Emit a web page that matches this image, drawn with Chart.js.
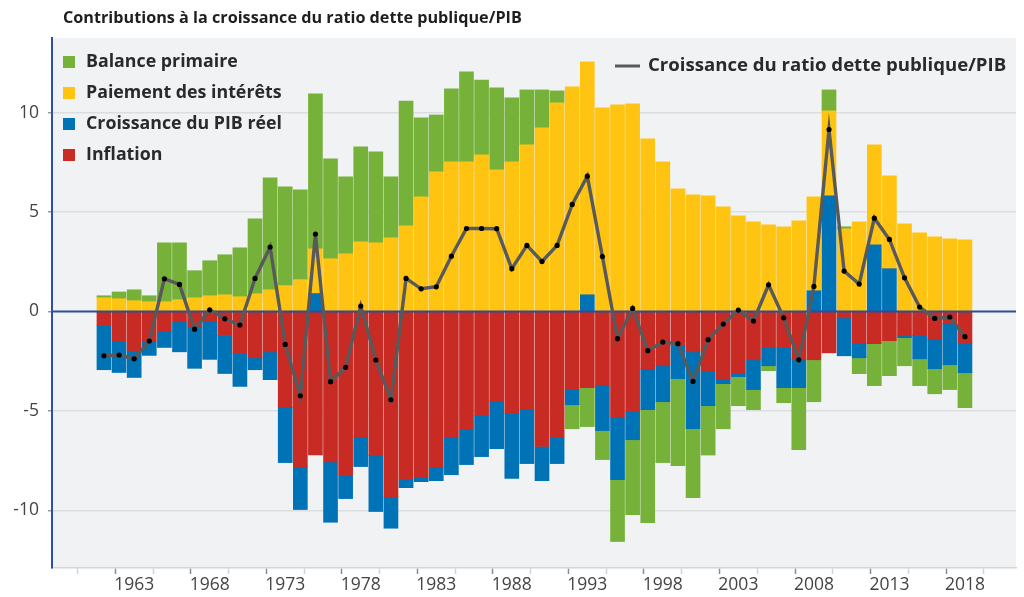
<!DOCTYPE html>
<html><head><meta charset="utf-8">
<script src="https://cdn.jsdelivr.net/npm/chart.js@4.4.1/dist/chart.umd.min.js"></script>
<style>html,body{margin:0;padding:0;background:#fff;}canvas{display:block;}</style>
</head><body>
<canvas id="c" width="1024" height="597"></canvas>
<script>
const TITLE = "Contributions à la croissance du ratio dette publique/PIB";
const LABEL_PRIMARY = "Balance primaire";
const LABEL_INTEREST = "Paiement des intérêts";
const LABEL_GROWTH = "Croissance du PIB réel";
const LABEL_INFLATION = "Inflation";
const LABEL_LINE = "Croissance du ratio dette publique/PIB";

const years = [1961,1962,1963,1964,1965,1966,1967,1968,1969,1970,
  1971,1972,1973,1974,1975,1976,1977,1978,1979,1980,
  1981,1982,1983,1984,1985,1986,1987,1988,1989,1990,
  1991,1992,1993,1994,1995,1996,1997,1998,1999,2000,
  2001,2002,2003,2004,2005,2006,2007,2008,2009,2010,
  2011,2012,2013,2014,2015,2016,2017,2018];

const tickYears = [1963,1968,1973,1978,1983,1988,1993,1998,2003,2008,2013,2018];
const minorTickYears = [1960.5,1965.5,1970.5,1975.5,1980.5,1985.5,1990.5,1995.5,2000.5,2005.5,2010.5,2015.5];
const yTicks = [-10,-5,0,5,10];

const inflation = [-0.70,-1.47,-1.97,-1.52,-1.00,-0.52,-0.77,-0.47,-1.21,-2.11,
  -2.33,-2.03,-4.82,-7.80,-7.22,-7.57,-8.26,-6.30,-7.25,-9.36,
  -8.46,-8.36,-7.86,-6.30,-5.90,-5.24,-4.49,-5.14,-4.94,-6.79,
  -6.35,-3.93,-3.83,-3.73,-5.34,-5.04,-2.88,-2.73,-1.72,-2.03,
  -2.98,-3.38,-3.13,-2.43,-1.82,-1.81,-2.43,-2.43,-2.08,-0.32,
  -1.62,-1.62,-1.47,-1.22,-1.22,-1.42,-0.62,-1.62];

const realGrowth = [-2.23,-1.60,-1.35,-0.69,-0.81,-1.51,-2.09,-1.94,-1.91,-1.66,
  -0.60,-1.40,-2.78,-2.16,0.90,-3.03,-1.15,-1.50,-2.81,-1.54,
  -0.40,-0.20,-0.65,-1.91,-1.80,-2.06,-2.41,-3.26,-2.71,-1.72,
  -1.30,-0.76,0.84,-2.26,-3.12,-1.41,-2.06,-1.81,-1.66,-3.87,
  -1.76,-0.25,-0.15,-1.50,-0.91,-2.02,-1.40,1.04,5.81,-1.91,
  -0.71,3.35,2.15,-0.10,-1.16,-1.46,-2.06,-1.46];

const interest = [0.69,0.64,0.54,0.49,0.49,0.59,0.69,0.79,0.84,0.74,
  0.89,1.09,1.30,1.60,2.25,2.65,2.90,3.50,3.45,3.70,
  4.31,5.76,7.02,7.52,7.52,7.87,7.12,7.52,8.38,9.23,
  10.49,11.29,11.71,10.24,10.39,10.44,8.68,7.52,6.17,5.86,
  5.81,5.26,4.81,4.51,4.36,4.26,4.56,4.72,4.28,4.16,
  4.51,5.03,4.67,4.41,3.95,3.75,3.65,3.60];

const primaryBalance = [0.10,0.34,0.55,0.30,2.96,2.86,1.36,1.76,2.01,2.46,
  3.77,5.63,4.97,4.52,7.79,5.02,3.87,4.78,4.58,3.07,
  6.27,3.97,2.86,3.67,4.53,3.77,4.12,3.22,2.76,1.91,
  0.60,-1.21,-1.96,-1.46,-3.11,-3.77,-5.68,-3.06,-4.37,-3.46,
  -2.48,-2.27,-1.46,-1.01,-0.25,-0.76,-3.12,-2.11,1.05,0.10,
  -0.80,-2.11,-1.76,-1.41,-1.35,-1.26,-1.25,-1.76];

const debtRatioGrowth = [-2.23,-2.19,-2.38,-1.49,1.64,1.36,-0.89,0.08,-0.37,-0.68,
  1.66,3.24,-1.66,-4.24,3.89,-3.53,-2.81,0.27,-2.44,-4.44,
  1.66,1.14,1.24,2.78,4.17,4.17,4.16,2.15,3.32,2.51,
  3.32,5.38,6.80,2.76,-1.37,0.15,-1.97,-1.54,-1.62,-3.52,
  -1.42,-0.63,0.07,-0.48,1.34,-0.32,-2.43,1.26,9.15,2.03,
  1.38,4.69,3.62,1.69,0.22,-0.35,-0.28,-1.27];

const COLORS = {green:'#76b23a', yellow:'#ffc412', blue:'#0072b6', red:'#c82a24', line:'#58595b', dot:'#000000'};
const FONT = '"Open Sans", "Noto Sans", sans-serif';

const pts = arr => arr.map((v,i)=>({x:years[i], y:v}));

const barCommon = {type:'bar', barThickness:14, borderWidth:0, stack:'contrib', order:1};

const datasets = [
  Object.assign({label:LABEL_INFLATION, data:pts(inflation), backgroundColor:COLORS.red}, barCommon),
  Object.assign({label:LABEL_GROWTH, data:pts(realGrowth), backgroundColor:COLORS.blue}, barCommon),
  Object.assign({label:LABEL_INTEREST, data:pts(interest), backgroundColor:COLORS.yellow}, barCommon),
  Object.assign({label:LABEL_PRIMARY, data:pts(primaryBalance), backgroundColor:COLORS.green}, barCommon),
  {type:'line', label:LABEL_LINE, data:pts(debtRatioGrowth), stack:'line', order:0,
   borderColor:COLORS.line, borderWidth:3.4, tension:0,
   pointRadius:2.6, pointBackgroundColor:COLORS.dot, pointBorderWidth:0, pointHoverRadius:2.6}
];

const leftLegend = [
  {label:LABEL_PRIMARY, color:COLORS.green},
  {label:LABEL_INTEREST, color:COLORS.yellow},
  {label:LABEL_GROWTH, color:COLORS.blue},
  {label:LABEL_INFLATION, color:COLORS.red}
];

const decor = {
  id:'decor',
  beforeDraw(chart){
    const {ctx, chartArea:a} = chart;
    ctx.save();
    ctx.fillStyle = '#f1f2f4';
    ctx.fillRect(a.left, a.top, a.right-a.left, a.bottom-a.top);
    ctx.restore();
  },
  beforeDatasetDraw(chart, args){
    if (args.meta.type !== 'line') return;
    const {ctx, chartArea:a, scales} = chart;
    const y0 = scales.y.getPixelForValue(0);
    ctx.save();
    ctx.strokeStyle = '#2c4d9c';
    ctx.lineWidth = 2;
    ctx.beginPath(); ctx.moveTo(a.left, y0); ctx.lineTo(a.right, y0); ctx.stroke();
    ctx.restore();
  },
  afterDraw(chart){
    const ctx = chart.ctx;
    ctx.save();
    ctx.fillStyle = '#1e1e1e';
    ctx.font = 'bold 16.2px ' + FONT;
    ctx.textBaseline = 'alphabetic';
    ctx.textAlign = 'left';
    ctx.fillText(TITLE, 63, 23);

    ctx.font = 'bold 17.8px ' + FONT;
    ctx.textBaseline = 'middle';
    leftLegend.forEach((e,k)=>{
      const cy = 62 + 31*k;
      ctx.fillStyle = e.color;
      ctx.fillRect(63, cy-6, 12, 12);
      ctx.fillStyle = '#2a2a2a';
      ctx.fillText(e.label, 86, cy);
    });
    ctx.strokeStyle = COLORS.line;
    ctx.lineWidth = 3;
    ctx.beginPath(); ctx.moveTo(615, 66); ctx.lineTo(640, 66); ctx.stroke();
    ctx.font = 'bold 18.6px ' + FONT;
    ctx.fillStyle = '#2a2a2a';
    ctx.fillText(LABEL_LINE, 648, 66);
    ctx.restore();
  }
};

new Chart(document.getElementById('c'), {
  data:{datasets},
  options:{
    responsive:false, animation:false, devicePixelRatio:1,
    layout:{padding:{top:38, right:8, bottom:0, left:0}},
    plugins:{legend:{display:false}, tooltip:{enabled:false}, title:{display:false}},
    scales:{
      x:{
        type:'linear', stacked:true, min:1957.56, max:2021.38, offset:false,
        afterBuildTicks(scale){
          scale.ticks = minorTickYears.concat(tickYears).sort((a,b)=>a-b).map(v=>({value:v}));
        },
        afterFit(scale){ scale.height = 29; },
        ticks:{autoSkip:false, maxRotation:0, padding:1, color:'#444',
          font:{family:FONT, size:17.5},
          callback:(v)=> Number.isInteger(v) ? String(v) : ''},
        grid:{drawOnChartArea:false, drawTicks:true, tickLength:6, tickWidth:1.5,
          tickColor:(c)=> (c.tick && Number.isInteger(c.tick.value)) ? '#8c8c8c' : '#d2d2d2'},
        border:{color:'#d4d5d8', width:1.5}
      },
      y:{
        type:'linear', stacked:true, min:-12.9, max:13.75,
        afterBuildTicks(scale){ scale.ticks = yTicks.map(v=>({value:v})); },
        afterFit(scale){ scale.width = 52; },
        ticks:{padding:9, color:'#444', font:{family:FONT, size:17.5}, includeBounds:false,
          callback:(v)=> String(v)},
        grid:{color:(c)=> (c.tick && c.tick.value===0) ? 'rgba(0,0,0,0)' : '#dcdde0',
          lineWidth:1.5, drawTicks:true, tickLength:4, tickColor:'#9a9a9a'},
        border:{color:'#2f50a6', width:2}
      }
    }
  },
  plugins:[decor]
});
</script>
</body></html>
